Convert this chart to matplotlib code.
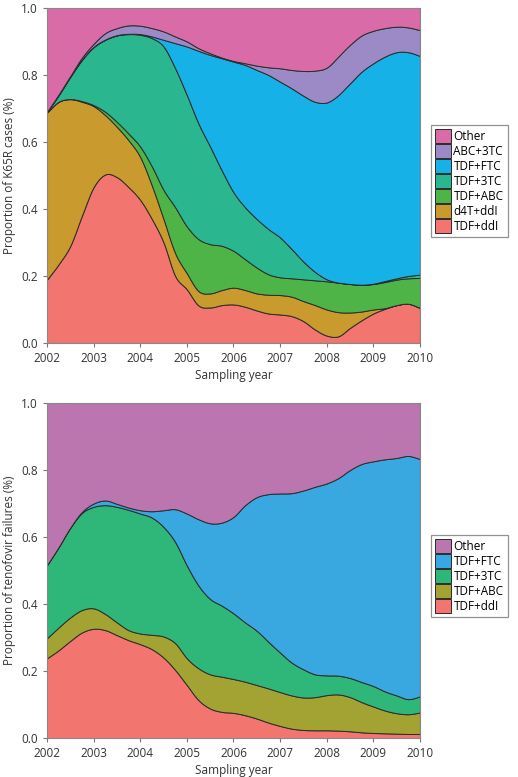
import numpy as np
import matplotlib
matplotlib.use("Agg")
import matplotlib.pyplot as plt
from matplotlib.ticker import FormatStrFormatter

plt.rcParams['font.family'] = ['Open Sans', 'DejaVu Sans']

# sampling grid (quarter years) used for the readings below
years = [2002 + 0.25 * i for i in range(33)]

# --- panel A: K65R cases, upper edge of each stacked band ---
k65r_labels = ['TDF+ddI', 'd4T+ddI', 'TDF+ABC', 'TDF+3TC', 'TDF+FTC', 'ABC+3TC', 'Other']
k65r_colors = ['#f2756f', '#c99a2e', '#4fb447', '#2ab68f', '#16b1e6', '#9b8ac6', '#d96ca8']

k65r_tdf_ddi = [0.189, 0.235, 0.29, 0.38, 0.465, 0.503, 0.495, 0.465, 0.427, 0.37, 0.30,
                0.20, 0.16, 0.112, 0.106, 0.113, 0.115, 0.108, 0.097, 0.088, 0.085, 0.08,
                0.065, 0.04, 0.022, 0.02, 0.045, 0.068, 0.088, 0.102, 0.113, 0.117, 0.105]
k65r_d4t_ddi = [0.688, 0.72, 0.728, 0.72, 0.707, 0.68, 0.645, 0.605, 0.555, 0.47, 0.37,
                0.268, 0.208, 0.155, 0.148, 0.158, 0.165, 0.158, 0.148, 0.144, 0.143, 0.138,
                0.125, 0.113, 0.10, 0.092, 0.091, 0.094, 0.10, 0.104, 0.113, 0.117, 0.105]
k65r_tdf_abc = [0.688, 0.72, 0.728, 0.722, 0.71, 0.69, 0.66, 0.625, 0.586, 0.527, 0.457,
                0.405, 0.348, 0.31, 0.295, 0.29, 0.275, 0.25, 0.225, 0.205, 0.196, 0.193,
                0.19, 0.187, 0.184, 0.18, 0.176, 0.174, 0.176, 0.182, 0.189, 0.193, 0.194]
k65r_tdf_3tc = [0.69, 0.74, 0.795, 0.845, 0.883, 0.905, 0.918, 0.922, 0.92, 0.91, 0.885,
                0.82, 0.74, 0.655, 0.586, 0.515, 0.45, 0.405, 0.37, 0.34, 0.315, 0.28,
                0.243, 0.212, 0.19, 0.18, 0.176, 0.174, 0.177, 0.185, 0.193, 0.20, 0.204]
k65r_tdf_ftc = [0.69, 0.74, 0.795, 0.846, 0.884, 0.906, 0.919, 0.923, 0.922, 0.915, 0.905,
                0.895, 0.885, 0.872, 0.86, 0.85, 0.84, 0.83, 0.815, 0.80, 0.78, 0.76,
                0.738, 0.72, 0.718, 0.74, 0.775, 0.81, 0.835, 0.855, 0.868, 0.868, 0.857]
k65r_abc_3tc = [0.69, 0.742, 0.797, 0.852, 0.893, 0.925, 0.94, 0.948, 0.947, 0.94, 0.93,
                0.915, 0.90, 0.88, 0.865, 0.852, 0.842, 0.835, 0.828, 0.823, 0.82, 0.815,
                0.812, 0.813, 0.822, 0.855, 0.89, 0.918, 0.932, 0.94, 0.944, 0.942, 0.934]
k65r_other = [1.0] * 33

# --- panel B: tenofovir failures, upper edge of each stacked band ---
tdf_labels = ['TDF+ddI', 'TDF+ABC', 'TDF+3TC', 'TDF+FTC', 'Other']
tdf_colors = ['#f2756f', '#a3a334', '#2fb77a', '#3aa8e0', '#bb76b0']

tdf_tdf_ddi = [0.238, 0.262, 0.29, 0.315, 0.326, 0.322, 0.307, 0.292, 0.28, 0.265, 0.24,
               0.203, 0.158, 0.113, 0.088, 0.078, 0.075, 0.068, 0.058, 0.046, 0.036, 0.028,
               0.024, 0.023, 0.023, 0.022, 0.02, 0.017, 0.015, 0.014, 0.013, 0.012, 0.012]
tdf_tdf_abc = [0.298, 0.33, 0.36, 0.382, 0.387, 0.37, 0.345, 0.322, 0.312, 0.308, 0.303,
               0.283, 0.238, 0.208, 0.19, 0.183, 0.176, 0.168, 0.158, 0.148, 0.137, 0.127,
               0.121, 0.122, 0.128, 0.13, 0.122, 0.107, 0.094, 0.082, 0.074, 0.071, 0.076]
tdf_tdf_3tc = [0.516, 0.57, 0.628, 0.672, 0.69, 0.695, 0.69, 0.681, 0.67, 0.658, 0.63,
               0.585, 0.515, 0.455, 0.415, 0.395, 0.372, 0.345, 0.32, 0.287, 0.255, 0.225,
               0.205, 0.19, 0.187, 0.186, 0.179, 0.167, 0.155, 0.139, 0.127, 0.116, 0.124]
tdf_tdf_ftc = [0.516, 0.57, 0.628, 0.675, 0.70, 0.709, 0.699, 0.688, 0.68, 0.677, 0.68,
               0.683, 0.67, 0.653, 0.641, 0.643, 0.66, 0.695, 0.719, 0.728, 0.73, 0.731,
               0.739, 0.75, 0.76, 0.776, 0.80, 0.818, 0.826, 0.832, 0.836, 0.842, 0.833]
tdf_other = [1.0] * 33


def catmull_rom(x, y, n=20):
    """Smooth a sampled series with a Catmull-Rom spline for drawing."""
    x = np.asarray(x, float)
    y = np.asarray(y, float)
    yp = np.concatenate([[2 * y[0] - y[1]], y, [2 * y[-1] - y[-2]]])
    xs, ys = [], []
    t = np.linspace(0, 1, n, endpoint=False)
    for i in range(len(x) - 1):
        p0, p1, p2, p3 = yp[i], yp[i + 1], yp[i + 2], yp[i + 3]
        seg = 0.5 * ((2 * p1) + (-p0 + p2) * t + (2 * p0 - 5 * p1 + 4 * p2 - p3) * t ** 2
                     + (-p0 + 3 * p1 - 3 * p2 + p3) * t ** 3)
        xs.append(x[i] + (x[i + 1] - x[i]) * t)
        ys.append(seg)
    xs.append([x[-1]])
    ys.append([y[-1]])
    return np.concatenate(xs), np.concatenate(ys)


def draw_panel(ax, edges, labels, colors, ylabel):
    edges = np.array(edges)
    shares = np.diff(np.vstack([np.zeros(edges.shape[1]), edges]), axis=0)
    smooth = []
    for s in shares:
        xs, ys = catmull_rom(years, s)
        smooth.append(np.clip(ys, 0, None))
    polys = ax.stackplot(xs, smooth, colors=colors, edgecolor='#2b2b2b', linewidth=0.7)
    ax.set_xlim(2002, 2010)
    ax.set_ylim(0, 1)
    ax.set_xticks(range(2002, 2011))
    ax.set_yticks(np.arange(0, 1.01, 0.2))
    ax.yaxis.set_major_formatter(FormatStrFormatter('%.1f'))
    ax.tick_params(labelsize=8.5, length=3, color='#777777', labelcolor='#333333')
    for sp in ax.spines.values():
        sp.set_color('#888888')
        sp.set_linewidth(0.8)
    ax.set_xlabel('Sampling year', fontsize=8.5, color='#333333', labelpad=3)
    ax.set_ylabel(ylabel, fontsize=8.5, color='#333333', labelpad=4)
    return polys


def add_legend(ax, polys, labels, ycenter):
    leg = ax.legend(polys[::-1], labels[::-1], loc='center left',
                    bbox_to_anchor=(0.832, ycenter), bbox_transform=fig.transFigure,
                    fontsize=8.5, frameon=True, fancybox=False, edgecolor='#777777',
                    handlelength=1.35, handleheight=1.45, handletextpad=0.2,
                    labelspacing=0.08, borderpad=0.35, borderaxespad=0)
    leg.get_frame().set_linewidth(0.9)
    return leg


fig = plt.figure(figsize=(5.18, 7.77), dpi=100)

ax1 = fig.add_axes([0.0907, 0.5586, 0.72, 0.4311])
p1 = draw_panel(ax1, [k65r_tdf_ddi, k65r_d4t_ddi, k65r_tdf_abc, k65r_tdf_3tc,
                      k65r_tdf_ftc, k65r_abc_3tc, k65r_other],
                k65r_labels, k65r_colors, 'Proportion of K65R cases (%)')
add_legend(ax1, p1, k65r_labels, 0.767)

ax2 = fig.add_axes([0.0907, 0.0502, 0.72, 0.4311])
p2 = draw_panel(ax2, [tdf_tdf_ddi, tdf_tdf_abc, tdf_tdf_3tc, tdf_tdf_ftc, tdf_other],
                tdf_labels, tdf_colors, 'Proportion of tenofovir failures (%)')
add_legend(ax2, p2, tdf_labels, 0.259)

fig.savefig('out.png', dpi=100)
